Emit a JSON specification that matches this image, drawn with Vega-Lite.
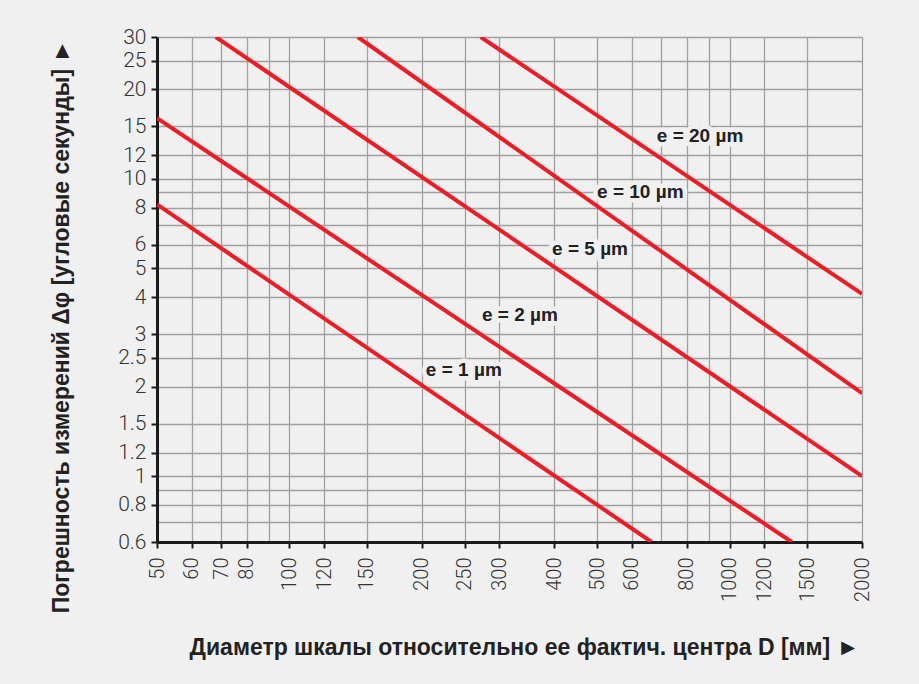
{
  "$schema": "https://vega.github.io/schema/vega-lite/v6.json",
  "width": 705,
  "height": 505,
  "autosize": {"type": "none"},
  "padding": {"left": 157, "top": 37, "right": 57, "bottom": 142},
  "background": "#f0f0f0",
  "config": {"view": {"stroke": null}, "font": "Liberation Sans"},
  "datasets": {
    "lines": [
      {"e": "1", "D": 50, "V": 8.2},
      {"e": "1", "D": 665, "V": 0.6},
      {"e": "2", "D": 50, "V": 16},
      {"e": "2", "D": 1385, "V": 0.6},
      {"e": "5", "D": 68, "V": 30},
      {"e": "5", "D": 2000, "V": 1.0},
      {"e": "10", "D": 143, "V": 30},
      {"e": "10", "D": 2000, "V": 1.9},
      {"e": "20", "D": 272, "V": 30},
      {"e": "20", "D": 2000, "V": 4.1}
    ],
    "labels": [
      {"D": 857, "V": 13.9, "t": "e = 20 µm"},
      {"D": 627, "V": 9.0, "t": "e = 10 µm"},
      {"D": 482, "V": 5.8, "t": "e = 5 µm"},
      {"D": 334, "V": 3.48, "t": "e = 2 µm"},
      {"D": 249, "V": 2.27, "t": "e = 1 µm"}
    ]
  },
  "encoding": {
    "x": {
      "field": "D",
      "type": "quantitative",
      "scale": {"type": "log", "domain": [50, 2000], "nice": false},
      "axis": {
        "title": "Диаметр шкалы относительно ее фактич. центра D [мм] ►",
        "values": [50, 60, 70, 80, 90, 100, 120, 150, 200, 250, 300, 400, 500, 600, 700, 800, 900, 1000, 1200, 1500, 2000],
        "format": "~g",
        "labelExpr": "indexof([90,700,900], datum.value) >= 0 ? '' : datum.label",
        "labelAngle": -90,
        "labelFont": "Roboto",
        "labelFontWeight": 300,
        "labelFontSize": 20,
        "labelColor": "#333333",
        "labelPadding": 9,
        "labelOverlap": false,
        "labelFlush": false,
        "tickSize": 6,
        "tickWidth": 2,
        "tickColor": {"condition": {"test": "indexof([90,700,900], datum.value) >= 0", "value": "transparent"}, "value": "#1a1a1a"},
        "domainColor": "#1a1a1a",
        "domainWidth": 3,
        "gridColor": "#a0a0a0",
        "gridWidth": 1.3,
        "titleFont": "Liberation Sans",
        "titleFontWeight": "bold",
        "titleFontSize": 23,
        "titleColor": "#222222",
        "titleX": 367,
        "titleY": 112,
        "titleAlign": "center",
        "titleBaseline": "alphabetic"
      }
    },
    "y": {
      "field": "V",
      "type": "quantitative",
      "scale": {"type": "log", "domain": [0.6, 30], "nice": false},
      "axis": {
        "title": "Погрешность измерений Δφ [угловые секунды] ►",
        "values": [0.6, 0.7, 0.8, 0.9, 1, 1.2, 1.5, 2, 2.5, 3, 4, 5, 6, 7, 8, 9, 10, 12, 15, 20, 25, 30],
        "format": "~g",
        "labelExpr": "indexof([0.7,0.9,7,9], datum.value) >= 0 ? '' : datum.label",
        "labelFont": "Roboto",
        "labelFontWeight": 300,
        "labelFontSize": 21,
        "labelColor": "#333333",
        "labelPadding": 5,
        "labelOverlap": false,
        "labelFlush": false,
        "tickSize": 6,
        "tickWidth": 2,
        "tickColor": {"condition": {"test": "indexof([0.7,0.9,7,9], datum.value) >= 0", "value": "transparent"}, "value": "#1a1a1a"},
        "domainColor": "#1a1a1a",
        "domainWidth": 3,
        "gridColor": "#a0a0a0",
        "gridWidth": 1.3,
        "titleFont": "Liberation Sans",
        "titleFontWeight": "bold",
        "titleFontSize": 23,
        "titleColor": "#222222",
        "titleAngle": 270,
        "titleX": -89,
        "titleY": 289,
        "titleAlign": "center",
        "titleBaseline": "alphabetic"
      }
    }
  },
  "layer": [
    {
      "data": {"name": "lines"},
      "mark": {"type": "line", "color": "#ee1c25", "strokeWidth": 4, "clip": true},
      "encoding": {"detail": {"field": "e"}}
    },
    {
      "data": {"name": "labels"},
      "mark": {"type": "text", "font": "Liberation Sans", "fontWeight": "bold", "fontSize": 19, "stroke": "#f0f0f0", "strokeWidth": 9, "strokeJoin": "round", "fill": "#f0f0f0", "align": "center", "baseline": "middle"},
      "encoding": {"text": {"field": "t"}}
    },
    {
      "data": {"name": "labels"},
      "mark": {"type": "text", "font": "Liberation Sans", "fontWeight": "bold", "fontSize": 19, "fill": "#222222", "align": "center", "baseline": "middle"},
      "encoding": {"text": {"field": "t"}}
    }
  ]
}
